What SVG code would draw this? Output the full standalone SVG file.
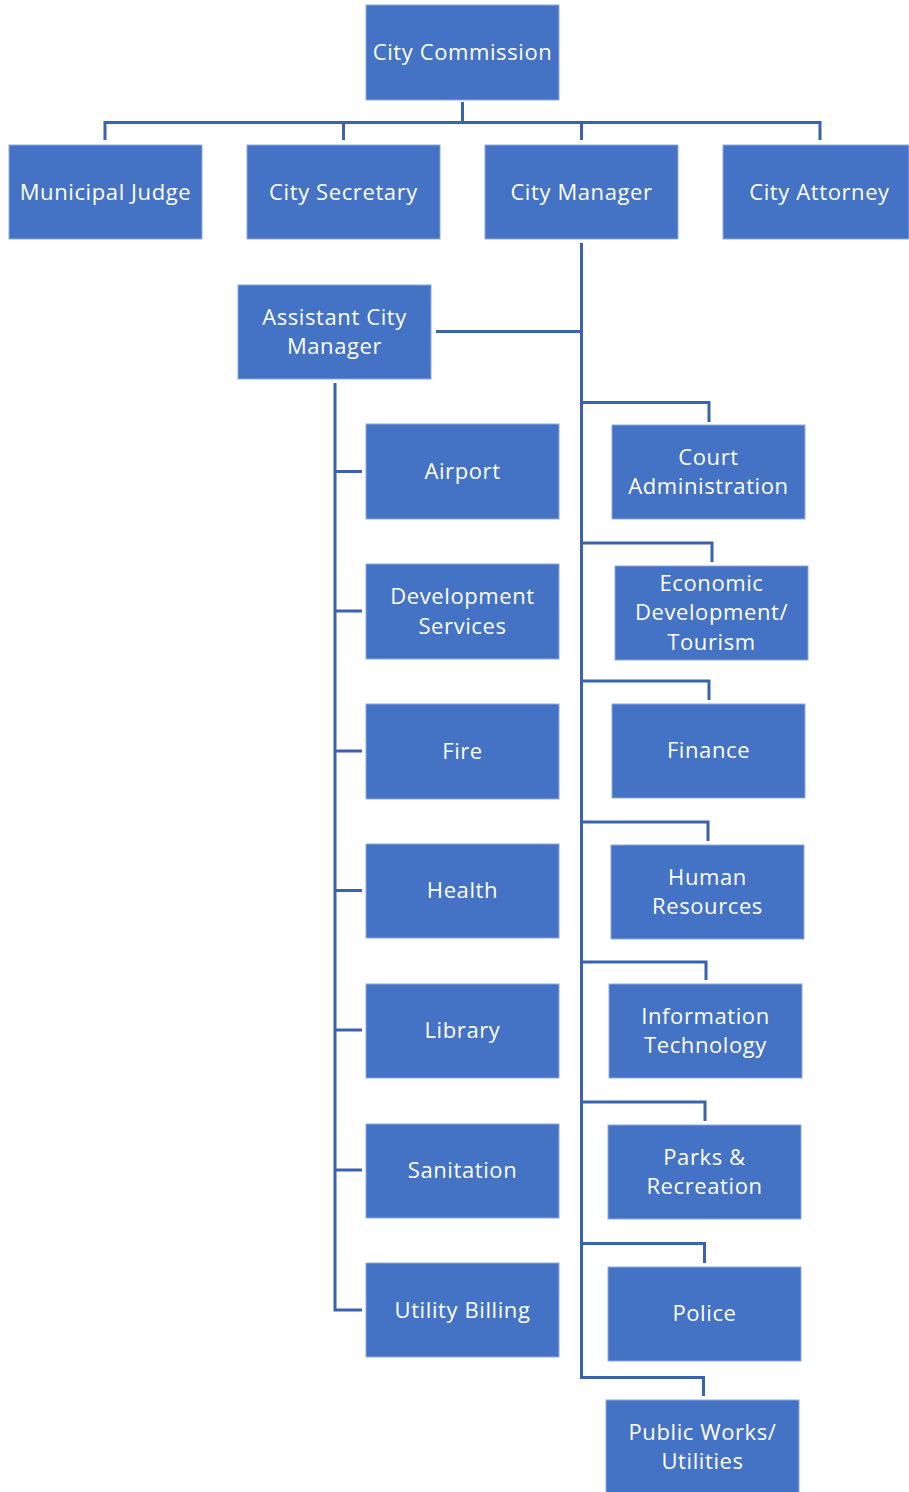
<svg xmlns="http://www.w3.org/2000/svg" width="909" height="1492" viewBox="0 0 909 1492">
<style>
.box{fill:#4472C4;stroke:#8EA9DB;stroke-width:1}
.lbl{font-family:"Open Sans","Liberation Sans",sans-serif;font-size:22px;letter-spacing:0.6px;fill:#FFFFFF;text-anchor:middle}
.con{fill:none;stroke:#3A63AE;stroke-width:3;stroke-linejoin:miter}
</style>
<rect width="909" height="1492" fill="#FFFFFF"/>
<g id="connectors">
<path class="con" d="M462.5 102 V122.5 M105 140 V122.5 H820 V140 M343.5 122.5 V140 M581.5 122.5 V140"/>
<path class="con" d="M581.5 243 V1377.5 H703.5 V1396"/>
<path class="con" d="M436 331.5 H581.5"/>
<path class="con" d="M335 383 V1310 H362"/>
<path class="con" d="M335 471.5 H362 M335 611 H362 M335 751 H362 M335 890.5 H362 M335 1030 H362 M335 1170 H362"/>
<path class="con" d="M581.5 402.5 H709 V422"/>
<path class="con" d="M581.5 543 H712 V562"/>
<path class="con" d="M581.5 681 H709 V700"/>
<path class="con" d="M581.5 822 H708 V841"/>
<path class="con" d="M581.5 962 H706 V980"/>
<path class="con" d="M581.5 1102 H705 V1121"/>
<path class="con" d="M581.5 1243.5 H704.5 V1263"/>
</g>
<g id="city-commission"><rect class="box" x="366" y="5" width="193" height="95"/><text class="lbl" x="462.5" y="60">City Commission</text></g>
<g id="municipal-judge"><rect class="box" x="9" y="145" width="193" height="94"/><text class="lbl" x="105.5" y="200">Municipal Judge</text></g>
<g id="city-secretary"><rect class="box" x="247" y="145" width="193" height="94"/><text class="lbl" x="343.5" y="200">City Secretary</text></g>
<g id="city-manager"><rect class="box" x="485" y="145" width="193" height="94"/><text class="lbl" x="581.5" y="200">City Manager</text></g>
<g id="city-attorney"><rect class="box" x="723" y="145" width="186" height="94"/><text class="lbl" x="819.5" y="200">City Attorney</text></g>
<g id="assistant-city-manager"><rect class="box" x="238" y="285" width="193" height="94"/><text class="lbl" x="334.5" y="325">Assistant City</text><text class="lbl" x="334.5" y="354">Manager</text></g>
<g id="airport"><rect class="box" x="366" y="424" width="193" height="95"/><text class="lbl" x="462.5" y="479">Airport</text></g>
<g id="development-services"><rect class="box" x="366" y="564" width="193" height="95"/><text class="lbl" x="462.5" y="604">Development</text><text class="lbl" x="462.5" y="634">Services</text></g>
<g id="fire"><rect class="box" x="366" y="704" width="193" height="95"/><text class="lbl" x="462.5" y="759">Fire</text></g>
<g id="health"><rect class="box" x="366" y="844" width="193" height="94"/><text class="lbl" x="462.5" y="898">Health</text></g>
<g id="library"><rect class="box" x="366" y="984" width="193" height="94"/><text class="lbl" x="462.5" y="1038">Library</text></g>
<g id="sanitation"><rect class="box" x="366" y="1124" width="193" height="94"/><text class="lbl" x="462.5" y="1178">Sanitation</text></g>
<g id="utility-billing"><rect class="box" x="366" y="1263" width="193" height="94"/><text class="lbl" x="462.5" y="1318">Utility Billing</text></g>
<g id="court-administration"><rect class="box" x="612" y="425" width="193" height="94"/><text class="lbl" x="708.5" y="465">Court</text><text class="lbl" x="708.5" y="494">Administration</text></g>
<g id="economic-development"><rect class="box" x="615" y="566" width="193" height="94"/><text class="lbl" x="711.5" y="591">Economic</text><text class="lbl" x="711.5" y="620">Development/</text><text class="lbl" x="711.5" y="650">Tourism</text></g>
<g id="finance"><rect class="box" x="612" y="704" width="193" height="94"/><text class="lbl" x="708.5" y="758">Finance</text></g>
<g id="human-resources"><rect class="box" x="611" y="845" width="193" height="94"/><text class="lbl" x="707.5" y="885">Human</text><text class="lbl" x="707.5" y="914">Resources</text></g>
<g id="information-technology"><rect class="box" x="609" y="984" width="193" height="94"/><text class="lbl" x="705.5" y="1024">Information</text><text class="lbl" x="705.5" y="1053">Technology</text></g>
<g id="parks-recreation"><rect class="box" x="608" y="1125" width="193" height="94"/><text class="lbl" x="704.5" y="1165">Parks &amp;</text><text class="lbl" x="704.5" y="1194">Recreation</text></g>
<g id="police"><rect class="box" x="608" y="1267" width="193" height="94"/><text class="lbl" x="704.5" y="1321">Police</text></g>
<g id="public-works"><rect class="box" x="606" y="1400" width="193" height="94"/><text class="lbl" x="702.5" y="1440">Public Works/</text><text class="lbl" x="702.5" y="1469">Utilities</text></g>
</svg>
